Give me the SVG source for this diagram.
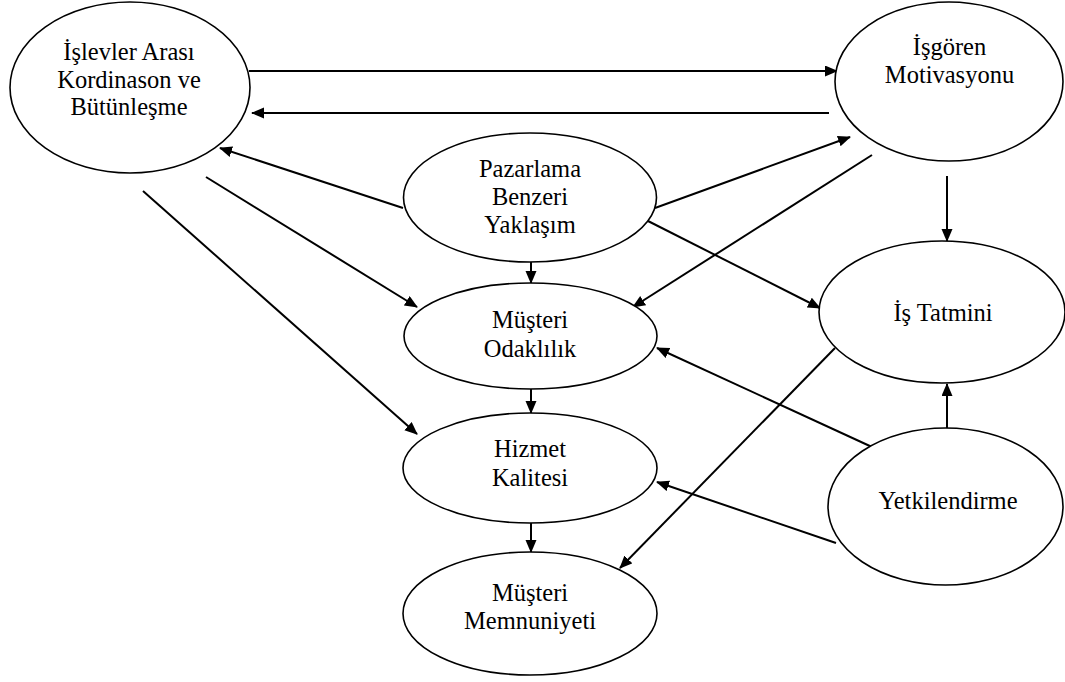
<svg xmlns="http://www.w3.org/2000/svg" width="1065" height="682" viewBox="0 0 1065 682">
  <defs>
    <marker id="arrow" markerUnits="userSpaceOnUse" markerWidth="14" markerHeight="12" refX="12" refY="5.5" orient="auto">
      <path d="M0,0 L13,5.5 L0,11 Z" fill="#000"/>
    </marker>
    <style>
      .node ellipse { fill: #fff; stroke: #000; stroke-width: 1.6; }
      .node text { font-family: "Liberation Serif", "Times New Roman", serif; font-size: 24.5px; fill: #000; text-anchor: middle; }
      #connectors line { stroke: #000; stroke-width: 2; marker-end: url(#arrow); }
    </style>
  </defs>
  <rect width="1065" height="682" fill="#fff"/>

  <g id="connectors">
    <line x1="249" y1="71" x2="837" y2="71"/>
    <line x1="829" y1="113" x2="252" y2="113"/>
    <line x1="403" y1="208" x2="220" y2="148"/>
    <line x1="655" y1="208" x2="850" y2="137"/>
    <line x1="872" y1="155" x2="633" y2="307"/>
    <line x1="947" y1="176" x2="947" y2="241"/>
    <line x1="648" y1="221" x2="820" y2="308"/>
    <line x1="531" y1="262" x2="531" y2="283"/>
    <line x1="206" y1="177" x2="417" y2="307"/>
    <line x1="143" y1="191" x2="417" y2="434"/>
    <line x1="531" y1="389" x2="531" y2="413"/>
    <line x1="531" y1="523" x2="531" y2="552"/>
    <line x1="835" y1="348" x2="620" y2="568"/>
    <line x1="872" y1="447" x2="657" y2="348"/>
    <line x1="836" y1="543" x2="657" y2="482"/>
    <line x1="947" y1="428" x2="947" y2="384"/>
  </g>

  <g id="islevler" class="node">
    <ellipse cx="130" cy="87.5" rx="120" ry="85.5"/>
    <text x="129" y="60">İşlevler Arası</text>
    <text x="129" y="88">Kordinason ve</text>
    <text x="129" y="115">Bütünleşme</text>
  </g>

  <g id="isgoren" class="node">
    <ellipse cx="949" cy="81.5" rx="114" ry="79.5"/>
    <text x="949.5" y="55">İşgören</text>
    <text x="949.5" y="83">Motivasyonu</text>
  </g>

  <g id="pazarlama" class="node">
    <ellipse cx="530" cy="197.5" rx="126.5" ry="64.5"/>
    <text x="530" y="177">Pazarlama</text>
    <text x="530" y="205">Benzeri</text>
    <text x="530" y="233">Yaklaşım</text>
  </g>

  <g id="musteri-odaklilik" class="node">
    <ellipse cx="530.5" cy="336" rx="126.5" ry="53"/>
    <text x="530" y="328">Müşteri</text>
    <text x="530" y="357">Odaklılık</text>
  </g>

  <g id="is-tatmini" class="node">
    <ellipse cx="942" cy="312" rx="123" ry="71"/>
    <text x="943" y="321">İş Tatmini</text>
  </g>

  <g id="hizmet-kalitesi" class="node">
    <ellipse cx="530" cy="468" rx="127" ry="55"/>
    <text x="530" y="457">Hizmet</text>
    <text x="530" y="486">Kalitesi</text>
  </g>

  <g id="yetkilendirme" class="node">
    <ellipse cx="945.5" cy="506.5" rx="117.5" ry="78.5"/>
    <text x="948" y="509">Yetkilendirme</text>
  </g>

  <g id="musteri-memnuniyeti" class="node">
    <ellipse cx="530" cy="613.5" rx="127" ry="61.5"/>
    <text x="530" y="601">Müşteri</text>
    <text x="530" y="629">Memnuniyeti</text>
  </g>
</svg>
